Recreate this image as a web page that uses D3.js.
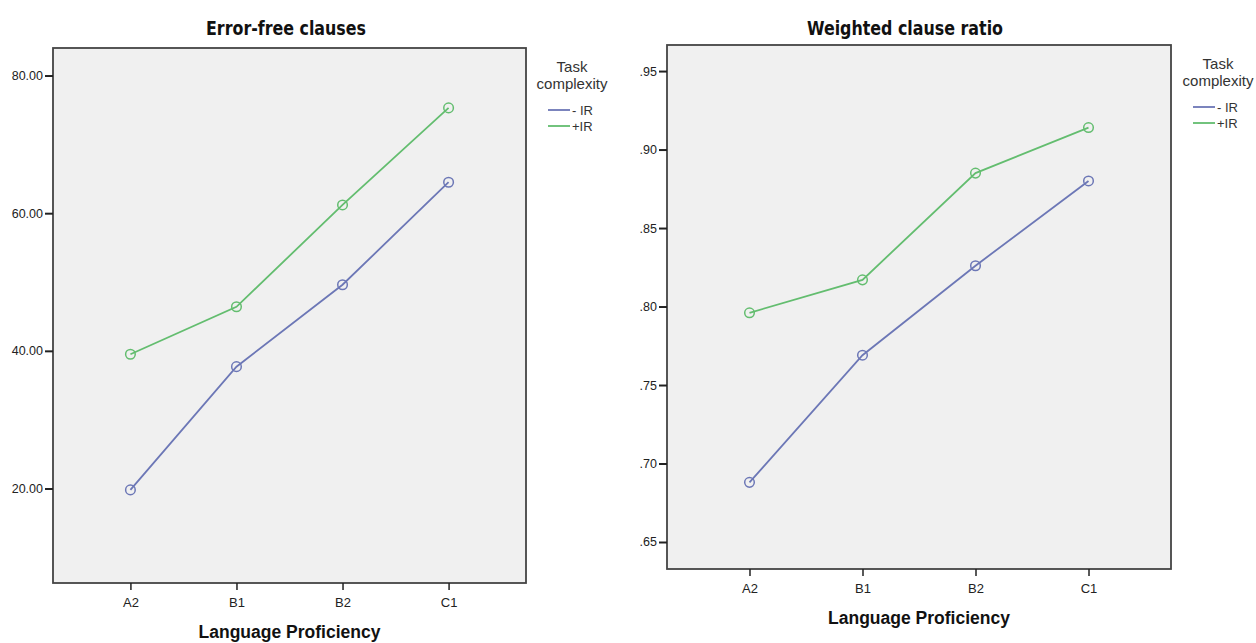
<!DOCTYPE html>
<html>
<head>
<meta charset="utf-8">
<script src="https://cdn.jsdelivr.net/npm/d3@7"></script>
<style>
  html, body { margin: 0; padding: 0; background: #fff; }
  svg { display: block; }
</style>
</head>
<body>
<svg id="chart" width="1256" height="643"></svg>
<script>
const levels = ['A2', 'B1', 'B2', 'C1'];
const seriesNames = ['- IR', '+IR'];

// Error-free clauses (estimated means)
const errorFreeLow = [19.8, 37.7, 49.6, 64.5];
const errorFreeHigh = [39.5, 46.4, 61.2, 75.3];
const errorFreeTicks = [20, 40, 60, 80];

// Weighted clause ratio (estimated means)
const weightedLow = [0.688, 0.769, 0.826, 0.880];
const weightedHigh = [0.796, 0.817, 0.885, 0.914];
const weightedTicks = [0.65, 0.70, 0.75, 0.80, 0.85, 0.90, 0.95];

const color = {
  low: '#6c77b6',
  high: '#63bd6f',
  frame: '#444',
  plotBg: '#f0f0f0',
  text: '#222'
};

const svg = d3.select('#chart');

function drawPanel(cfg) {
  const { box, title, titleX, titleY, titleWidth, domain, ticks, fmt, low, high, xLabelY, axisTitleY, legend } = cfg;
  const g = svg.append('g');

  const x = d3.scalePoint(levels, [box.left, box.right]).padding(0.73);
  const y = d3.scaleLinear(domain, [box.bottom, box.top]);

  // plot background + frame
  g.append('rect')
    .attr('x', box.left)
    .attr('y', box.top)
    .attr('width', box.right - box.left)
    .attr('height', box.bottom - box.top)
    .attr('fill', color.plotBg)
    .attr('stroke', color.frame)
    .attr('stroke-width', 1.8);

  // y axis
  const yAxis = d3.axisLeft(y).tickValues(ticks).tickFormat(fmt).tickSize(8).tickPadding(2);
  g.append('g')
    .attr('transform', `translate(${box.left},0)`)
    .call(yAxis)
    .call(a => a.select('.domain').remove())
    .call(a => a.selectAll('.tick line').attr('stroke', '#222').attr('stroke-width', 2))
    .call(a => a.selectAll('.tick text')
      .attr('fill', color.text)
      .attr('font-family', 'Liberation Sans, Arial, sans-serif')
      .attr('font-size', 12.5));

  // x axis
  const xAxis = d3.axisBottom(x).tickSize(7).tickPadding(4);
  g.append('g')
    .attr('transform', `translate(0,${box.bottom})`)
    .call(xAxis)
    .call(a => a.select('.domain').remove())
    .call(a => a.selectAll('.tick line').attr('stroke', '#222').attr('stroke-width', 1.5))
    .call(a => a.selectAll('.tick text')
      .attr('fill', color.text)
      .attr('font-family', 'Liberation Sans, Arial, sans-serif')
      .attr('font-size', 13)
      .attr('y', xLabelY - box.bottom)
      .attr('dy', '0.35em'));

  // lines + open circle markers
  const line = d3.line()
    .x((d, i) => x(levels[i]))
    .y(d => y(d));
  [[low, color.low], [high, color.high]].forEach(([vals, c]) => {
    g.append('path')
      .attr('d', line(vals))
      .attr('fill', 'none')
      .attr('stroke', c)
      .attr('stroke-width', 1.8);
    g.append('g')
      .selectAll('circle')
      .data(vals)
      .join('circle')
      .attr('cx', (d, i) => x(levels[i]))
      .attr('cy', d => y(d))
      .attr('r', 4.8)
      .attr('fill', 'none')
      .attr('stroke', c)
      .attr('stroke-width', 1.5);
  });

  // title (condensed, squeezed to the width seen in the picture)
  g.append('text')
    .attr('x', titleX)
    .attr('y', titleY)
    .attr('text-anchor', 'middle')
    .attr('font-family', 'DejaVu Sans, sans-serif')
    .style('font-stretch', 'condensed')
    .attr('font-weight', 700)
    .attr('font-size', 20)
    .attr('textLength', titleWidth)
    .attr('lengthAdjust', 'spacingAndGlyphs')
    .attr('fill', '#111')
    .text(title);

  // x axis title
  g.append('text')
    .attr('x', (box.left + box.right) / 2)
    .attr('y', axisTitleY)
    .attr('dy', '0.35em')
    .attr('text-anchor', 'middle')
    .attr('font-family', 'Liberation Sans, Arial, sans-serif')
    .attr('font-weight', 700)
    .attr('font-size', 17.5)
    .attr('fill', '#111')
    .text('Language Proficiency');

  // legend
  const lg = g.append('g')
    .attr('font-family', 'Liberation Sans, Arial, sans-serif')
    .attr('fill', '#333');
  lg.append('text')
    .attr('x', legend.cx).attr('y', legend.taskY).attr('dy', '0.35em')
    .attr('text-anchor', 'middle').attr('font-size', 15)
    .text('Task');
  lg.append('text')
    .attr('x', legend.cx).attr('y', legend.taskY + 17).attr('dy', '0.35em')
    .attr('text-anchor', 'middle').attr('font-size', 15)
    .text('complexity');
  [color.low, color.high].forEach((c, i) => {
    const yy = legend.lineY + i * 16;
    lg.append('line')
      .attr('x1', legend.lineX).attr('x2', legend.lineX + 22)
      .attr('y1', yy).attr('y2', yy)
      .attr('stroke', c).attr('stroke-width', 1.8);
    lg.append('text')
      .attr('x', legend.lineX + 24).attr('y', yy).attr('dy', '0.35em')
      .attr('font-size', 13)
      .text(seriesNames[i]);
  });
}

drawPanel({
  box: { left: 53, right: 526, top: 48, bottom: 583 },
  title: 'Error-free clauses',
  titleX: 286, titleY: 35, titleWidth: 160,
  domain: [6.27, 84.0],
  ticks: errorFreeTicks,
  fmt: d3.format('.2f'),
  low: errorFreeLow,
  high: errorFreeHigh,
  xLabelY: 602,
  axisTitleY: 632,
  legend: { cx: 572, taskY: 67, lineX: 548, lineY: 110 }
});

drawPanel({
  box: { left: 667, right: 1171, top: 45, bottom: 569 },
  title: 'Weighted clause ratio',
  titleX: 905, titleY: 35, titleWidth: 196,
  domain: [0.6328, 0.9666],
  ticks: weightedTicks,
  fmt: d => d3.format('.2f')(d).replace(/^0/, ''),
  low: weightedLow,
  high: weightedHigh,
  xLabelY: 588,
  axisTitleY: 618,
  legend: { cx: 1218, taskY: 64, lineX: 1193, lineY: 107 }
});
</script>
</body>
</html>
